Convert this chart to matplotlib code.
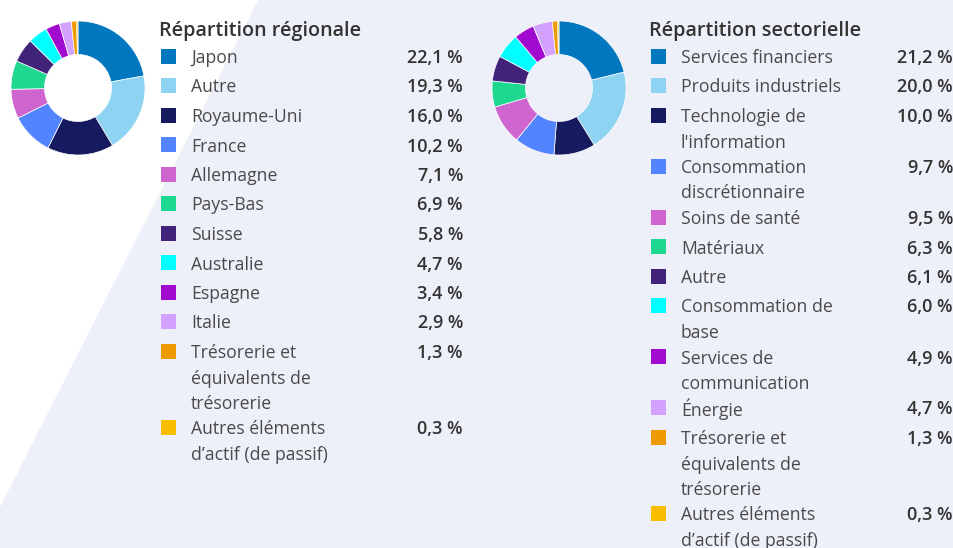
import matplotlib
matplotlib.use("Agg")
import matplotlib.pyplot as plt
from matplotlib.patches import Polygon, Rectangle

# ---------------- data ----------------
region_title = "Répartition régionale"
region_labels = ["Japon", "Autre", "Royaume-Uni", "France", "Allemagne", "Pays-Bas",
                 "Suisse", "Australie", "Espagne", "Italie",
                 "Trésorerie et\néquivalents de\ntrésorerie",
                 "Autres éléments\nd’actif (de passif)"]
region_values = [22.1, 19.3, 16.0, 10.2, 7.1, 6.9, 5.8, 4.7, 3.4, 2.9, 1.3, 0.3]

sector_title = "Répartition sectorielle"
sector_labels = ["Services financiers", "Produits industriels", "Technologie de\nl'information",
                 "Consommation\ndiscrétionnaire", "Soins de santé", "Matériaux", "Autre",
                 "Consommation de\nbase", "Services de\ncommunication", "Énergie",
                 "Trésorerie et\néquivalents de\ntrésorerie",
                 "Autres éléments\nd’actif (de passif)"]
sector_values = [21.2, 20.0, 10.0, 9.7, 9.5, 6.3, 6.1, 6.0, 4.9, 4.7, 1.3, 0.3]

palette = ["#0077BE", "#8FD3F2", "#161A5E", "#5384FF", "#CF66CF", "#1ED892",
           "#42237A", "#00FFFF", "#A10ACF", "#D3A1FF", "#ED9B00", "#F9BD00"]

# ---------------- figure ----------------
W, H = 954, 548
DPI = 100
fig = plt.figure(figsize=(W / DPI, H / DPI), dpi=DPI)
fig.patch.set_facecolor("white")

bg = fig.add_axes([0, 0, 1, 1])
bg.set_xlim(0, W)
bg.set_ylim(H, 0)
bg.axis("off")
bg.add_patch(Polygon([(258, 0), (W, 0), (W, H), (0, H), (0, 507)],
                     closed=True, facecolor="#EEF0F9", edgecolor="none"))

FONT = "Open Sans"
TITLE_C = "#333333"
LABEL_C = "#4A4A4A"
VALUE_C = "#333333"


def fmt(v):
    return f"{v:.1f}".replace(".", ",") + " %"


def donut(cx, cy, r, values):
    ax = fig.add_axes([(cx - r) / W, 1 - (cy + r) / H, 2 * r / W, 2 * r / H])
    ax.pie(values, colors=palette[:len(values)], startangle=90, counterclock=False,
           radius=1.0, wedgeprops=dict(width=0.5, edgecolor="white", linewidth=0.5))
    ax.set_xlim(-1.0, 1.0)
    ax.set_ylim(-1.0, 1.0)
    ax.set_aspect("equal")
    ax.axis("off")


def legend(x0, xv, title, labels, values):
    bg.text(x0 - 1, 31, title, fontsize=14.2, fontweight="semibold", color=TITLE_C,
            family=FONT, va="center", ha="left")
    y = 56
    for lab, val, col in zip(labels, values, palette):
        lines = lab.split("\n")
        bg.add_patch(Rectangle((x0 + 1, y - 7.5), 15, 15, facecolor=col, edgecolor="none"))
        for i, line in enumerate(lines):
            bg.text(x0 + 31, y + i * 25.5, line, fontsize=12.7, color=LABEL_C,
                    family=FONT, va="center_baseline", ha="left")
        bg.text(xv, y, fmt(val), fontsize=13, fontweight="semibold", color=VALUE_C,
                family=FONT, va="center_baseline", ha="right")
        y += 29.5 if len(lines) == 1 else 25.5 * len(lines)


donut(78, 88, 67, region_values)
donut(559, 88, 67, sector_values)
legend(160, 463, region_title, region_labels, region_values)
legend(650, 953, sector_title, sector_labels, sector_values)

fig.savefig("out.png", dpi=DPI)
